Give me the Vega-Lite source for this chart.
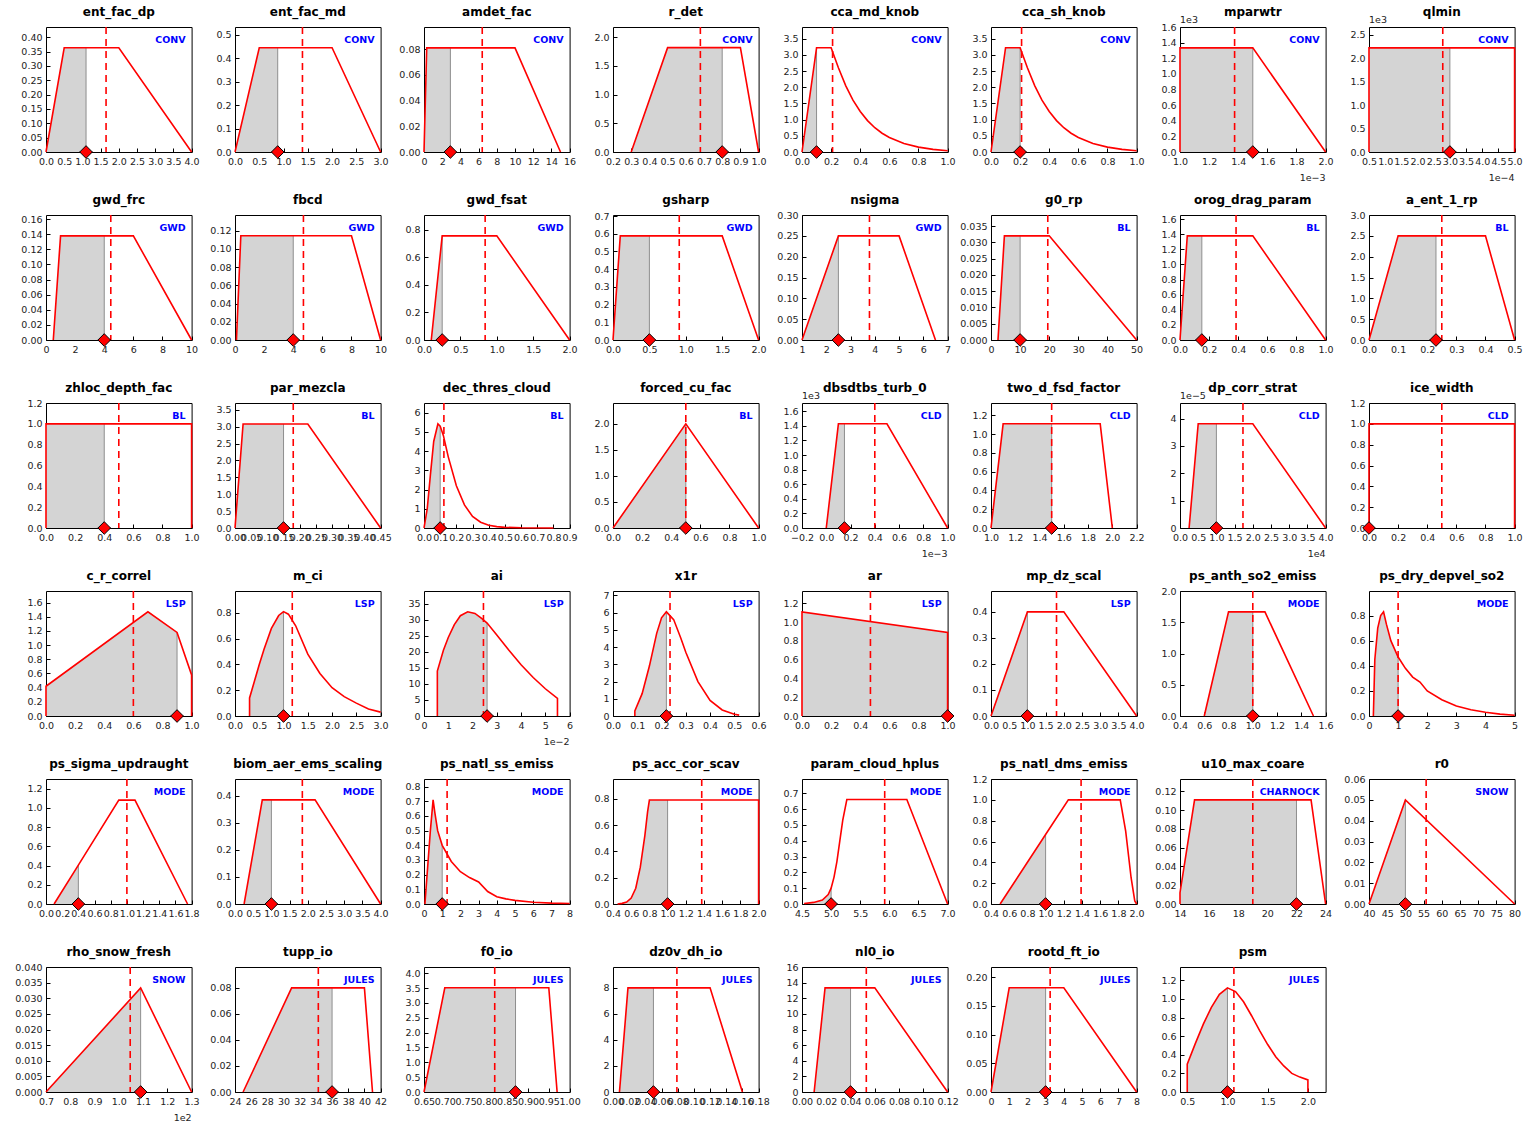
{
"$schema": "https://vega.github.io/schema/vega-lite/v6.json",
"background": "white",
"padding": {"left": 14, "top": 5, "right": 5, "bottom": 2},
"data": {"values": [
{"p":"ent_fac_dp","i":1,"x0":0,"x1":4,"yt":0.436,"d":1.65,"m":1.1,"v":0.3636,"lab":"CONV","ey":"","ex":""},
{"p":"ent_fac_dp","x":0,"y":0},{"p":"ent_fac_dp","x":0.5,"y":0.3636},{"p":"ent_fac_dp","x":1.1,"y":0.3636},{"p":"ent_fac_dp","x":2,"y":0.3636},{"p":"ent_fac_dp","x":4,"y":0},
{"p":"ent_fac_md","i":2,"x0":0,"x1":3,"yt":0.533,"d":1.39,"m":0.88,"v":0.4444,"lab":"CONV","ey":"","ex":""},
{"p":"ent_fac_md","x":0,"y":0},{"p":"ent_fac_md","x":0.5,"y":0.4444},{"p":"ent_fac_md","x":0.88,"y":0.4444},{"p":"ent_fac_md","x":2,"y":0.4444},{"p":"ent_fac_md","x":3,"y":0},
{"p":"amdet_fac","i":3,"x0":0,"x1":16,"yt":0.0972,"d":6.4,"m":2.9,"v":0.081,"lab":"CONV","ey":"","ex":""},
{"p":"amdet_fac","x":0,"y":0},{"p":"amdet_fac","x":0.3,"y":0.081},{"p":"amdet_fac","x":2.9,"y":0.081},{"p":"amdet_fac","x":10,"y":0.081},{"p":"amdet_fac","x":15,"y":0},
{"p":"r_det","i":4,"x0":0.2,"x1":1.0,"yt":2.18,"d":0.68,"m":0.8,"v":1.82,"lab":"CONV","ey":"","ex":""},
{"p":"r_det","x":0.3,"y":0},{"p":"r_det","x":0.5,"y":1.82},{"p":"r_det","x":0.8,"y":1.82},{"p":"r_det","x":0.9,"y":1.82},{"p":"r_det","x":1.0,"y":0},
{"p":"cca_md_knob","i":5,"x0":0,"x1":1,"yt":3.86,"d":0.21,"m":0.1,"v":3.22,"lab":"CONV","ey":"","ex":""},
{"p":"cca_md_knob","x":0,"y":0},{"p":"cca_md_knob","x":0.1,"y":3.22},{"p":"cca_md_knob","x":0.2,"y":3.22},{"p":"cca_md_knob","x":0.25,"y":2.6},{"p":"cca_md_knob","x":0.3,"y":2.05},{"p":"cca_md_knob","x":0.35,"y":1.6},{"p":"cca_md_knob","x":0.4,"y":1.25},{"p":"cca_md_knob","x":0.45,"y":0.97},{"p":"cca_md_knob","x":0.5,"y":0.75},{"p":"cca_md_knob","x":0.55,"y":0.58},{"p":"cca_md_knob","x":0.6,"y":0.45},{"p":"cca_md_knob","x":0.7,"y":0.26},{"p":"cca_md_knob","x":0.8,"y":0.15},{"p":"cca_md_knob","x":0.9,"y":0.08},{"p":"cca_md_knob","x":1.0,"y":0.04},
{"p":"cca_sh_knob","i":6,"x0":0,"x1":1,"yt":3.86,"d":0.21,"m":0.2,"v":3.22,"lab":"CONV","ey":"","ex":""},
{"p":"cca_sh_knob","x":0,"y":0},{"p":"cca_sh_knob","x":0.1,"y":3.22},{"p":"cca_sh_knob","x":0.2,"y":3.22},{"p":"cca_sh_knob","x":0.25,"y":2.6},{"p":"cca_sh_knob","x":0.3,"y":2.05},{"p":"cca_sh_knob","x":0.35,"y":1.6},{"p":"cca_sh_knob","x":0.4,"y":1.25},{"p":"cca_sh_knob","x":0.45,"y":0.97},{"p":"cca_sh_knob","x":0.5,"y":0.75},{"p":"cca_sh_knob","x":0.55,"y":0.58},{"p":"cca_sh_knob","x":0.6,"y":0.45},{"p":"cca_sh_knob","x":0.7,"y":0.26},{"p":"cca_sh_knob","x":0.8,"y":0.15},{"p":"cca_sh_knob","x":0.9,"y":0.08},{"p":"cca_sh_knob","x":1.0,"y":0.04},
{"p":"mparwtr","i":7,"x0":1,"x1":2,"yt":1.6008,"d":1.375,"m":1.5,"v":1.3333,"lab":"CONV","ey":"1e3","ex":"1e−3"},
{"p":"mparwtr","x":1,"y":0},{"p":"mparwtr","x":1,"y":1.3333},{"p":"mparwtr","x":1.5,"y":1.3333},{"p":"mparwtr","x":2,"y":0},
{"p":"qlmin","i":8,"x0":0.5,"x1":5,"yt":2.667,"d":2.78,"m":3.0,"v":2.2222,"lab":"CONV","ey":"1e3","ex":"1e−4"},
{"p":"qlmin","x":0.5,"y":0},{"p":"qlmin","x":0.5,"y":2.2222},{"p":"qlmin","x":3.0,"y":2.2222},{"p":"qlmin","x":5,"y":2.2222},{"p":"qlmin","x":5,"y":0},
{"p":"gwd_frc","i":9,"x0":0,"x1":10,"yt":0.1655,"d":4.45,"m":4,"v":0.1379,"lab":"GWD","ey":"","ex":""},
{"p":"gwd_frc","x":0.5,"y":0},{"p":"gwd_frc","x":1,"y":0.1379},{"p":"gwd_frc","x":4,"y":0.1379},{"p":"gwd_frc","x":6,"y":0.1379},{"p":"gwd_frc","x":10,"y":0},
{"p":"fbcd","i":10,"x0":0,"x1":10,"yt":0.137,"d":4.7,"m":4,"v":0.1143,"lab":"GWD","ey":"","ex":""},
{"p":"fbcd","x":0.1,"y":0},{"p":"fbcd","x":0.4,"y":0.1143},{"p":"fbcd","x":4,"y":0.1143},{"p":"fbcd","x":8,"y":0.1143},{"p":"fbcd","x":10,"y":0},
{"p":"gwd_fsat","i":11,"x0":0,"x1":2,"yt":0.906,"d":0.84,"m":0.25,"v":0.755,"lab":"GWD","ey":"","ex":""},
{"p":"gwd_fsat","x":0.1,"y":0},{"p":"gwd_fsat","x":0.25,"y":0.755},{"p":"gwd_fsat","x":1.0,"y":0.755},{"p":"gwd_fsat","x":2.0,"y":0},
{"p":"gsharp","i":12,"x0":0,"x1":2,"yt":0.706,"d":0.91,"m":0.5,"v":0.588,"lab":"GWD","ey":"","ex":""},
{"p":"gsharp","x":0,"y":0},{"p":"gsharp","x":0.1,"y":0.588},{"p":"gsharp","x":0.5,"y":0.588},{"p":"gsharp","x":1.5,"y":0.588},{"p":"gsharp","x":2.0,"y":0},
{"p":"nsigma","i":13,"x0":1,"x1":7,"yt":0.30015,"d":3.78,"m":2.5,"v":0.25,"lab":"GWD","ey":"","ex":""},
{"p":"nsigma","x":1,"y":0},{"p":"nsigma","x":2.5,"y":0.25},{"p":"nsigma","x":5,"y":0.25},{"p":"nsigma","x":6.5,"y":0},
{"p":"g0_rp","i":14,"x0":0,"x1":50,"yt":0.0384,"d":19.5,"m":10,"v":0.032,"lab":"BL","ey":"","ex":""},
{"p":"g0_rp","x":2.4,"y":0},{"p":"g0_rp","x":4.6,"y":0.032},{"p":"g0_rp","x":10,"y":0.032},{"p":"g0_rp","x":20,"y":0.032},{"p":"g0_rp","x":50,"y":0},
{"p":"orog_drag_param","i":15,"x0":0,"x1":1,"yt":1.655,"d":0.385,"m":0.15,"v":1.379,"lab":"BL","ey":"","ex":""},
{"p":"orog_drag_param","x":0,"y":0},{"p":"orog_drag_param","x":0.05,"y":1.379},{"p":"orog_drag_param","x":0.15,"y":1.379},{"p":"orog_drag_param","x":0.5,"y":1.379},{"p":"orog_drag_param","x":1.0,"y":0},
{"p":"a_ent_1_rp","i":16,"x0":0,"x1":0.5,"yt":3.001,"d":0.25,"m":0.23,"v":2.5,"lab":"BL","ey":"","ex":""},
{"p":"a_ent_1_rp","x":0,"y":0},{"p":"a_ent_1_rp","x":0.1,"y":2.5},{"p":"a_ent_1_rp","x":0.23,"y":2.5},{"p":"a_ent_1_rp","x":0.4,"y":2.5},{"p":"a_ent_1_rp","x":0.5,"y":0},
{"p":"zhloc_depth_fac","i":17,"x0":0,"x1":1,"yt":1.2005,"d":0.5,"m":0.4,"v":1,"lab":"BL","ey":"","ex":""},
{"p":"zhloc_depth_fac","x":0,"y":0},{"p":"zhloc_depth_fac","x":0,"y":1},{"p":"zhloc_depth_fac","x":0.4,"y":1},{"p":"zhloc_depth_fac","x":1,"y":1},{"p":"zhloc_depth_fac","x":1,"y":0},
{"p":"par_mezcla","i":18,"x0":0,"x1":0.45,"yt":3.7,"d":0.18,"m":0.15,"v":3.08,"lab":"BL","ey":"","ex":""},
{"p":"par_mezcla","x":0,"y":0},{"p":"par_mezcla","x":0.025,"y":3.08},{"p":"par_mezcla","x":0.15,"y":3.08},{"p":"par_mezcla","x":0.225,"y":3.08},{"p":"par_mezcla","x":0.45,"y":0},
{"p":"dec_thres_cloud","i":19,"x0":0,"x1":0.9,"yt":6.5,"d":0.123,"m":0.1,"v":5.3,"lab":"BL","ey":"","ex":""},
{"p":"dec_thres_cloud","x":0,"y":0},{"p":"dec_thres_cloud","x":0.02,"y":1.0},{"p":"dec_thres_cloud","x":0.04,"y":2.8},{"p":"dec_thres_cloud","x":0.06,"y":4.5},{"p":"dec_thres_cloud","x":0.086,"y":5.42},{"p":"dec_thres_cloud","x":0.1,"y":5.3},{"p":"dec_thres_cloud","x":0.12,"y":4.8},{"p":"dec_thres_cloud","x":0.15,"y":3.7},{"p":"dec_thres_cloud","x":0.2,"y":2.2},{"p":"dec_thres_cloud","x":0.25,"y":1.2},{"p":"dec_thres_cloud","x":0.3,"y":0.6},{"p":"dec_thres_cloud","x":0.35,"y":0.3},{"p":"dec_thres_cloud","x":0.4,"y":0.14},{"p":"dec_thres_cloud","x":0.45,"y":0.07},{"p":"dec_thres_cloud","x":0.5,"y":0.035},{"p":"dec_thres_cloud","x":0.6,"y":0.01},{"p":"dec_thres_cloud","x":0.8,"y":0.0},
{"p":"forced_cu_fac","i":20,"x0":0,"x1":1,"yt":2.4,"d":0.5,"m":0.5,"v":2,"lab":"BL","ey":"","ex":""},
{"p":"forced_cu_fac","x":0,"y":0},{"p":"forced_cu_fac","x":0.5,"y":2},{"p":"forced_cu_fac","x":1,"y":0},
{"p":"dbsdtbs_turb_0","i":21,"x0":-0.2,"x1":1.0,"yt":1.714,"d":0.4,"m":0.15,"v":1.4286,"lab":"CLD","ey":"1e3","ex":"1e−3"},
{"p":"dbsdtbs_turb_0","x":0,"y":0},{"p":"dbsdtbs_turb_0","x":0.1,"y":1.4286},{"p":"dbsdtbs_turb_0","x":0.15,"y":1.4286},{"p":"dbsdtbs_turb_0","x":0.5,"y":1.4286},{"p":"dbsdtbs_turb_0","x":1.0,"y":0},
{"p":"two_d_fsd_factor","i":22,"x0":1.0,"x1":2.2,"yt":1.333,"d":1.5,"m":1.5,"v":1.111,"lab":"CLD","ey":"","ex":""},
{"p":"two_d_fsd_factor","x":1.0,"y":0},{"p":"two_d_fsd_factor","x":1.1,"y":1.111},{"p":"two_d_fsd_factor","x":1.5,"y":1.111},{"p":"two_d_fsd_factor","x":1.9,"y":1.111},{"p":"two_d_fsd_factor","x":2.0,"y":0},
{"p":"dp_corr_strat","i":23,"x0":0,"x1":4,"yt":4.57,"d":1.73,"m":1.0,"v":3.81,"lab":"CLD","ey":"1e−5","ex":"1e4"},
{"p":"dp_corr_strat","x":0.25,"y":0},{"p":"dp_corr_strat","x":0.5,"y":3.81},{"p":"dp_corr_strat","x":1.0,"y":3.81},{"p":"dp_corr_strat","x":2.0,"y":3.81},{"p":"dp_corr_strat","x":4.0,"y":0},
{"p":"ice_width","i":24,"x0":0,"x1":1,"yt":1.2005,"d":0.5,"m":0,"v":0,"lab":"CLD","ey":"","ex":""},
{"p":"ice_width","x":0,"y":0},{"p":"ice_width","x":0,"y":1},{"p":"ice_width","x":1,"y":1},{"p":"ice_width","x":1,"y":0},
{"p":"c_r_correl","i":25,"x0":0,"x1":1,"yt":1.764,"d":0.6,"m":0.9,"v":1.18,"lab":"LSP","ey":"","ex":""},
{"p":"c_r_correl","x":0,"y":0},{"p":"c_r_correl","x":0,"y":0.42},{"p":"c_r_correl","x":0.7,"y":1.47},{"p":"c_r_correl","x":0.9,"y":1.18},{"p":"c_r_correl","x":1.0,"y":0.58},{"p":"c_r_correl","x":1.0,"y":0},
{"p":"m_ci","i":26,"x0":0,"x1":3,"yt":0.97,"d":1.18,"m":1.0,"v":0.81,"lab":"LSP","ey":"","ex":""},
{"p":"m_ci","x":0.3,"y":0},{"p":"m_ci","x":0.3,"y":0.14},{"p":"m_ci","x":0.4,"y":0.27},{"p":"m_ci","x":0.5,"y":0.4},{"p":"m_ci","x":0.6,"y":0.52},{"p":"m_ci","x":0.75,"y":0.68},{"p":"m_ci","x":0.9,"y":0.78},{"p":"m_ci","x":1.0,"y":0.81},{"p":"m_ci","x":1.1,"y":0.79},{"p":"m_ci","x":1.25,"y":0.7},{"p":"m_ci","x":1.5,"y":0.48},{"p":"m_ci","x":1.75,"y":0.33},{"p":"m_ci","x":2.0,"y":0.22},{"p":"m_ci","x":2.25,"y":0.15},{"p":"m_ci","x":2.5,"y":0.1},{"p":"m_ci","x":2.75,"y":0.055},{"p":"m_ci","x":3.0,"y":0.03},
{"p":"ai","i":27,"x0":0,"x1":6,"yt":39,"d":2.45,"m":2.6,"v":29,"lab":"LSP","ey":"","ex":"1e−2"},
{"p":"ai","x":0.55,"y":0},{"p":"ai","x":0.55,"y":14},{"p":"ai","x":0.8,"y":20.5},{"p":"ai","x":1.0,"y":24.5},{"p":"ai","x":1.25,"y":28.5},{"p":"ai","x":1.5,"y":31.3},{"p":"ai","x":1.8,"y":32.5},{"p":"ai","x":2.1,"y":32},{"p":"ai","x":2.4,"y":30.3},{"p":"ai","x":2.6,"y":29},{"p":"ai","x":3.0,"y":25.3},{"p":"ai","x":3.5,"y":20.5},{"p":"ai","x":4.0,"y":16},{"p":"ai","x":4.5,"y":12},{"p":"ai","x":5.0,"y":8.5},{"p":"ai","x":5.5,"y":5.5},{"p":"ai","x":5.5,"y":0},
{"p":"x1r","i":28,"x0":0,"x1":0.6,"yt":7.26,"d":0.235,"m":0.22,"v":6.05,"lab":"LSP","ey":"","ex":""},
{"p":"x1r","x":0.09,"y":0},{"p":"x1r","x":0.09,"y":0.3},{"p":"x1r","x":0.12,"y":1.3},{"p":"x1r","x":0.15,"y":2.9},{"p":"x1r","x":0.18,"y":4.8},{"p":"x1r","x":0.2,"y":5.7},{"p":"x1r","x":0.22,"y":6.05},{"p":"x1r","x":0.25,"y":5.6},{"p":"x1r","x":0.28,"y":4.5},{"p":"x1r","x":0.3,"y":3.7},{"p":"x1r","x":0.35,"y":2.0},{"p":"x1r","x":0.4,"y":0.9},{"p":"x1r","x":0.45,"y":0.35},{"p":"x1r","x":0.5,"y":0.1},{"p":"x1r","x":0.52,"y":0.05},
{"p":"ar","i":29,"x0":0,"x1":1,"yt":1.332,"d":0.47,"m":1.0,"v":0.89,"lab":"LSP","ey":"","ex":""},
{"p":"ar","x":0,"y":0},{"p":"ar","x":0,"y":1.11},{"p":"ar","x":1,"y":0.89},{"p":"ar","x":1,"y":0},
{"p":"mp_dz_scal","i":30,"x0":0,"x1":4,"yt":0.48,"d":1.8,"m":1.0,"v":0.4,"lab":"LSP","ey":"","ex":""},
{"p":"mp_dz_scal","x":0,"y":0},{"p":"mp_dz_scal","x":1,"y":0.4},{"p":"mp_dz_scal","x":2,"y":0.4},{"p":"mp_dz_scal","x":4,"y":0},
{"p":"ps_anth_so2_emiss","i":31,"x0":0.4,"x1":1.6,"yt":2.001,"d":1.0,"m":1.0,"v":1.667,"lab":"MODE","ey":"","ex":""},
{"p":"ps_anth_so2_emiss","x":0.6,"y":0},{"p":"ps_anth_so2_emiss","x":0.8,"y":1.667},{"p":"ps_anth_so2_emiss","x":1.0,"y":1.667},{"p":"ps_anth_so2_emiss","x":1.1,"y":1.667},{"p":"ps_anth_so2_emiss","x":1.5,"y":0},
{"p":"ps_dry_depvel_so2","i":32,"x0":0,"x1":5,"yt":0.996,"d":1.0,"m":1.0,"v":0.47,"lab":"MODE","ey":"","ex":""},
{"p":"ps_dry_depvel_so2","x":0.15,"y":0},{"p":"ps_dry_depvel_so2","x":0.2,"y":0.45},{"p":"ps_dry_depvel_so2","x":0.3,"y":0.7},{"p":"ps_dry_depvel_so2","x":0.4,"y":0.8},{"p":"ps_dry_depvel_so2","x":0.5,"y":0.83},{"p":"ps_dry_depvel_so2","x":0.6,"y":0.73},{"p":"ps_dry_depvel_so2","x":0.75,"y":0.6},{"p":"ps_dry_depvel_so2","x":1.0,"y":0.47},{"p":"ps_dry_depvel_so2","x":1.25,"y":0.38},{"p":"ps_dry_depvel_so2","x":1.5,"y":0.31},{"p":"ps_dry_depvel_so2","x":1.75,"y":0.27},{"p":"ps_dry_depvel_so2","x":2.0,"y":0.2},{"p":"ps_dry_depvel_so2","x":2.5,"y":0.13},{"p":"ps_dry_depvel_so2","x":3.0,"y":0.08},{"p":"ps_dry_depvel_so2","x":3.5,"y":0.05},{"p":"ps_dry_depvel_so2","x":4.0,"y":0.03},{"p":"ps_dry_depvel_so2","x":4.5,"y":0.015},{"p":"ps_dry_depvel_so2","x":5.0,"y":0.006},
{"p":"ps_sigma_updraught","i":33,"x0":0,"x1":1.8,"yt":1.3,"d":1.0,"m":0.4,"v":0.405,"lab":"MODE","ey":"","ex":""},
{"p":"ps_sigma_updraught","x":0.1,"y":0},{"p":"ps_sigma_updraught","x":0.4,"y":0.405},{"p":"ps_sigma_updraught","x":0.9,"y":1.08},{"p":"ps_sigma_updraught","x":1.1,"y":1.08},{"p":"ps_sigma_updraught","x":1.75,"y":0},
{"p":"biom_aer_ems_scaling","i":34,"x0":0,"x1":4,"yt":0.462,"d":1.85,"m":1.0,"v":0.385,"lab":"MODE","ey":"","ex":""},
{"p":"biom_aer_ems_scaling","x":0.25,"y":0},{"p":"biom_aer_ems_scaling","x":0.75,"y":0.385},{"p":"biom_aer_ems_scaling","x":1.0,"y":0.385},{"p":"biom_aer_ems_scaling","x":2.2,"y":0.385},{"p":"biom_aer_ems_scaling","x":4.0,"y":0},
{"p":"ps_natl_ss_emiss","i":35,"x0":0,"x1":8,"yt":0.852,"d":1.27,"m":1.0,"v":0.4,"lab":"MODE","ey":"","ex":""},
{"p":"ps_natl_ss_emiss","x":0.05,"y":0},{"p":"ps_natl_ss_emiss","x":0.2,"y":0.25},{"p":"ps_natl_ss_emiss","x":0.35,"y":0.5},{"p":"ps_natl_ss_emiss","x":0.5,"y":0.71},{"p":"ps_natl_ss_emiss","x":0.6,"y":0.62},{"p":"ps_natl_ss_emiss","x":0.75,"y":0.5},{"p":"ps_natl_ss_emiss","x":1.0,"y":0.4},{"p":"ps_natl_ss_emiss","x":1.5,"y":0.29},{"p":"ps_natl_ss_emiss","x":2.0,"y":0.22},{"p":"ps_natl_ss_emiss","x":2.5,"y":0.18},{"p":"ps_natl_ss_emiss","x":3.0,"y":0.15},{"p":"ps_natl_ss_emiss","x":3.5,"y":0.085},{"p":"ps_natl_ss_emiss","x":4.0,"y":0.05},{"p":"ps_natl_ss_emiss","x":4.5,"y":0.035},{"p":"ps_natl_ss_emiss","x":5.0,"y":0.025},{"p":"ps_natl_ss_emiss","x":6.0,"y":0.012},{"p":"ps_natl_ss_emiss","x":7.0,"y":0.006},{"p":"ps_natl_ss_emiss","x":8.0,"y":0.003},
{"p":"ps_acc_cor_scav","i":36,"x0":0.4,"x1":2.0,"yt":0.95,"d":1.375,"m":1.0,"v":0.79,"lab":"MODE","ey":"","ex":""},
{"p":"ps_acc_cor_scav","x":0.45,"y":0},{"p":"ps_acc_cor_scav","x":0.5,"y":0.005},{"p":"ps_acc_cor_scav","x":0.55,"y":0.015},{"p":"ps_acc_cor_scav","x":0.6,"y":0.045},{"p":"ps_acc_cor_scav","x":0.65,"y":0.12},{"p":"ps_acc_cor_scav","x":0.7,"y":0.28},{"p":"ps_acc_cor_scav","x":0.75,"y":0.52},{"p":"ps_acc_cor_scav","x":0.78,"y":0.7},{"p":"ps_acc_cor_scav","x":0.8,"y":0.79},{"p":"ps_acc_cor_scav","x":1.0,"y":0.79},{"p":"ps_acc_cor_scav","x":2.0,"y":0.79},{"p":"ps_acc_cor_scav","x":2.0,"y":0},
{"p":"param_cloud_hplus","i":37,"x0":4.5,"x1":7.0,"yt":0.79,"d":5.92,"m":5.0,"v":0.1,"lab":"MODE","ey":"","ex":""},
{"p":"param_cloud_hplus","x":4.55,"y":0},{"p":"param_cloud_hplus","x":4.55,"y":0.003},{"p":"param_cloud_hplus","x":4.7,"y":0.01},{"p":"param_cloud_hplus","x":4.85,"y":0.025},{"p":"param_cloud_hplus","x":4.95,"y":0.06},{"p":"param_cloud_hplus","x":5.0,"y":0.1},{"p":"param_cloud_hplus","x":5.05,"y":0.17},{"p":"param_cloud_hplus","x":5.1,"y":0.27},{"p":"param_cloud_hplus","x":5.15,"y":0.4},{"p":"param_cloud_hplus","x":5.2,"y":0.53},{"p":"param_cloud_hplus","x":5.27,"y":0.66},{"p":"param_cloud_hplus","x":6.3,"y":0.66},{"p":"param_cloud_hplus","x":7.0,"y":0},
{"p":"ps_natl_dms_emiss","i":38,"x0":0.4,"x1":2.0,"yt":1.2005,"d":1.39,"m":1.0,"v":0.667,"lab":"MODE","ey":"","ex":""},
{"p":"ps_natl_dms_emiss","x":0.5,"y":0},{"p":"ps_natl_dms_emiss","x":1.0,"y":0.667},{"p":"ps_natl_dms_emiss","x":1.25,"y":1.0},{"p":"ps_natl_dms_emiss","x":1.82,"y":1.0},{"p":"ps_natl_dms_emiss","x":1.88,"y":0.7},{"p":"ps_natl_dms_emiss","x":1.94,"y":0.25},{"p":"ps_natl_dms_emiss","x":1.98,"y":0.03},{"p":"ps_natl_dms_emiss","x":2.0,"y":0},
{"p":"u10_max_coare","i":39,"x0":14,"x1":24,"yt":0.1333,"d":19,"m":22,"v":0.111,"lab":"CHARNOCK","ey":"","ex":""},
{"p":"u10_max_coare","x":14,"y":0},{"p":"u10_max_coare","x":14,"y":0.012},{"p":"u10_max_coare","x":15,"y":0.111},{"p":"u10_max_coare","x":22,"y":0.111},{"p":"u10_max_coare","x":23,"y":0.111},{"p":"u10_max_coare","x":24,"y":0},
{"p":"r0","i":40,"x0":40,"x1":80,"yt":0.06003,"d":55.7,"m":50,"v":0.05,"lab":"SNOW","ey":"","ex":""},
{"p":"r0","x":40,"y":0},{"p":"r0","x":50,"y":0.05},{"p":"r0","x":80,"y":0},
{"p":"rho_snow_fresh","i":41,"x0":0.7,"x1":1.3,"yt":0.04002,"d":1.047,"m":1.09,"v":0.0333,"lab":"SNOW","ey":"","ex":"1e2"},
{"p":"rho_snow_fresh","x":0.7,"y":0},{"p":"rho_snow_fresh","x":1.09,"y":0.0333},{"p":"rho_snow_fresh","x":1.3,"y":0},
{"p":"tupp_io","i":42,"x0":24,"x1":42,"yt":0.096,"d":34.3,"m":36,"v":0.08,"lab":"JULES","ey":"","ex":""},
{"p":"tupp_io","x":25,"y":0},{"p":"tupp_io","x":31,"y":0.08},{"p":"tupp_io","x":36,"y":0.08},{"p":"tupp_io","x":40,"y":0.08},{"p":"tupp_io","x":41,"y":0},
{"p":"f0_io","i":43,"x0":0.65,"x1":1.0,"yt":4.21,"d":0.82,"m":0.87,"v":3.51,"lab":"JULES","ey":"","ex":""},
{"p":"f0_io","x":0.65,"y":0},{"p":"f0_io","x":0.7,"y":3.51},{"p":"f0_io","x":0.87,"y":3.51},{"p":"f0_io","x":0.95,"y":3.51},{"p":"f0_io","x":0.97,"y":0},
{"p":"dz0v_dh_io","i":44,"x0":0,"x1":0.18,"yt":9.6,"d":0.079,"m":0.05,"v":8,"lab":"JULES","ey":"","ex":""},
{"p":"dz0v_dh_io","x":0.008,"y":0},{"p":"dz0v_dh_io","x":0.0185,"y":8},{"p":"dz0v_dh_io","x":0.05,"y":8},{"p":"dz0v_dh_io","x":0.12,"y":8},{"p":"dz0v_dh_io","x":0.16,"y":0},
{"p":"nl0_io","i":45,"x0":0,"x1":0.12,"yt":16.008,"d":0.053,"m":0.04,"v":13.33,"lab":"JULES","ey":"","ex":""},
{"p":"nl0_io","x":0.01,"y":0},{"p":"nl0_io","x":0.019,"y":13.33},{"p":"nl0_io","x":0.04,"y":13.33},{"p":"nl0_io","x":0.06,"y":13.33},{"p":"nl0_io","x":0.12,"y":0},
{"p":"rootd_ft_io","i":46,"x0":0,"x1":8,"yt":0.218,"d":3.25,"m":3,"v":0.1818,"lab":"JULES","ey":"","ex":""},
{"p":"rootd_ft_io","x":0,"y":0},{"p":"rootd_ft_io","x":1,"y":0.1818},{"p":"rootd_ft_io","x":3,"y":0.1818},{"p":"rootd_ft_io","x":4,"y":0.1818},{"p":"rootd_ft_io","x":8,"y":0},
{"p":"psm","i":47,"x0":0.41,"x1":2.22,"yt":1.344,"d":1.08,"m":1.0,"v":1.12,"lab":"JULES","ey":"","ex":""},
{"p":"psm","x":0.5,"y":0},{"p":"psm","x":0.5,"y":0.3},{"p":"psm","x":0.6,"y":0.52},{"p":"psm","x":0.7,"y":0.73},{"p":"psm","x":0.8,"y":0.91},{"p":"psm","x":0.9,"y":1.05},{"p":"psm","x":1.0,"y":1.12},{"p":"psm","x":1.1,"y":1.08},{"p":"psm","x":1.2,"y":0.97},{"p":"psm","x":1.3,"y":0.82},{"p":"psm","x":1.4,"y":0.66},{"p":"psm","x":1.5,"y":0.51},{"p":"psm","x":1.6,"y":0.38},{"p":"psm","x":1.7,"y":0.28},{"p":"psm","x":1.8,"y":0.2},{"p":"psm","x":1.9,"y":0.16},{"p":"psm","x":2.0,"y":0.13},{"p":"psm","x":2.0,"y":0}
]},
"transform": [{"joinaggregate": [{"op": "max", "field": "m", "as": "mm"}], "groupby": ["p"]}],
"facet": {"field": "p", "type": "nominal", "title": null, "sort": {"field": "i", "op": "max"}},
"columns": 8,
"spacing": {"row": 63, "column": 43},
"bounds": "flush",
"resolve": {"scale": {"x": "independent", "y": "independent"}},
"spec": {
"width": 145.6,
"height": 125,
"layer": [
{"transform": [{"filter": "datum.y != null && datum.x <= datum.mm + 1e-9"}],
 "mark": {"type": "area", "color": "#d4d4d4", "opacity": 1},
 "encoding": {"x": {"field": "x", "type": "quantitative", "title": null, "scale": {"zero": false, "nice": false}}, "y": {"field": "y", "type": "quantitative", "title": null, "scale": {"nice": false}}, "order": {"value": null}}},
{"transform": [{"filter": "datum.i != null"}],
 "mark": {"type": "rule", "color": "#8e8e8e", "strokeWidth": 1},
 "encoding": {"x": {"field": "m", "type": "quantitative", "title": null, "scale": {"zero": false, "nice": false}}, "y": {"field": "v", "type": "quantitative", "title": null, "scale": {"nice": false}}, "y2": {"datum": 0}}},
{"transform": [{"filter": "datum.y != null"}],
 "mark": {"type": "line", "color": "#ff0000", "strokeWidth": 1.6},
 "encoding": {
  "x": {"field": "x", "type": "quantitative", "title": null, "scale": {"zero": false, "nice": false},
   "axis": {"title": null, "tickCount": 100,
    "values": {"expr": "sequence(ceil(domain('child_x')[0]/(pow(10,floor((log((domain('child_x')[1]-domain('child_x')[0])/9)/LN10-1e-9)))*(((log((domain('child_x')[1]-domain('child_x')[0])/9)/LN10-1e-9)-floor((log((domain('child_x')[1]-domain('child_x')[0])/9)/LN10-1e-9)))<=0.30103?2:((log((domain('child_x')[1]-domain('child_x')[0])/9)/LN10-1e-9)-floor((log((domain('child_x')[1]-domain('child_x')[0])/9)/LN10-1e-9)))<=0.69898?5:10))-1e-6)*(pow(10,floor((log((domain('child_x')[1]-domain('child_x')[0])/9)/LN10-1e-9)))*(((log((domain('child_x')[1]-domain('child_x')[0])/9)/LN10-1e-9)-floor((log((domain('child_x')[1]-domain('child_x')[0])/9)/LN10-1e-9)))<=0.30103?2:((log((domain('child_x')[1]-domain('child_x')[0])/9)/LN10-1e-9)-floor((log((domain('child_x')[1]-domain('child_x')[0])/9)/LN10-1e-9)))<=0.69898?5:10)),domain('child_x')[1]+(pow(10,floor((log((domain('child_x')[1]-domain('child_x')[0])/9)/LN10-1e-9)))*(((log((domain('child_x')[1]-domain('child_x')[0])/9)/LN10-1e-9)-floor((log((domain('child_x')[1]-domain('child_x')[0])/9)/LN10-1e-9)))<=0.30103?2:((log((domain('child_x')[1]-domain('child_x')[0])/9)/LN10-1e-9)-floor((log((domain('child_x')[1]-domain('child_x')[0])/9)/LN10-1e-9)))<=0.69898?5:10))*1e-6,(pow(10,floor((log((domain('child_x')[1]-domain('child_x')[0])/9)/LN10-1e-9)))*(((log((domain('child_x')[1]-domain('child_x')[0])/9)/LN10-1e-9)-floor((log((domain('child_x')[1]-domain('child_x')[0])/9)/LN10-1e-9)))<=0.30103?2:((log((domain('child_x')[1]-domain('child_x')[0])/9)/LN10-1e-9)-floor((log((domain('child_x')[1]-domain('child_x')[0])/9)/LN10-1e-9)))<=0.69898?5:10)))"},
    "labelExpr": "format(datum.value,'.'+max(0,-floor(log((pow(10,floor((log((domain('child_x')[1]-domain('child_x')[0])/9)/LN10-1e-9)))*(((log((domain('child_x')[1]-domain('child_x')[0])/9)/LN10-1e-9)-floor((log((domain('child_x')[1]-domain('child_x')[0])/9)/LN10-1e-9)))<=0.30103?2:((log((domain('child_x')[1]-domain('child_x')[0])/9)/LN10-1e-9)-floor((log((domain('child_x')[1]-domain('child_x')[0])/9)/LN10-1e-9)))<=0.69898?5:10)))/LN10+1e-6))+'f')"}},
  "y": {"field": "y", "type": "quantitative", "title": null, "scale": {"nice": false},
   "axis": {"title": null, "tickCount": 100,
    "values": {"expr": "sequence(ceil(domain('child_y')[0]/(pow(10,floor((log((domain('child_y')[1]-domain('child_y')[0])/9)/LN10-1e-9)))*(((log((domain('child_y')[1]-domain('child_y')[0])/9)/LN10-1e-9)-floor((log((domain('child_y')[1]-domain('child_y')[0])/9)/LN10-1e-9)))<=0.30103?2:((log((domain('child_y')[1]-domain('child_y')[0])/9)/LN10-1e-9)-floor((log((domain('child_y')[1]-domain('child_y')[0])/9)/LN10-1e-9)))<=0.69898?5:10))-1e-6)*(pow(10,floor((log((domain('child_y')[1]-domain('child_y')[0])/9)/LN10-1e-9)))*(((log((domain('child_y')[1]-domain('child_y')[0])/9)/LN10-1e-9)-floor((log((domain('child_y')[1]-domain('child_y')[0])/9)/LN10-1e-9)))<=0.30103?2:((log((domain('child_y')[1]-domain('child_y')[0])/9)/LN10-1e-9)-floor((log((domain('child_y')[1]-domain('child_y')[0])/9)/LN10-1e-9)))<=0.69898?5:10)),domain('child_y')[1]+(pow(10,floor((log((domain('child_y')[1]-domain('child_y')[0])/9)/LN10-1e-9)))*(((log((domain('child_y')[1]-domain('child_y')[0])/9)/LN10-1e-9)-floor((log((domain('child_y')[1]-domain('child_y')[0])/9)/LN10-1e-9)))<=0.30103?2:((log((domain('child_y')[1]-domain('child_y')[0])/9)/LN10-1e-9)-floor((log((domain('child_y')[1]-domain('child_y')[0])/9)/LN10-1e-9)))<=0.69898?5:10))*1e-6,(pow(10,floor((log((domain('child_y')[1]-domain('child_y')[0])/9)/LN10-1e-9)))*(((log((domain('child_y')[1]-domain('child_y')[0])/9)/LN10-1e-9)-floor((log((domain('child_y')[1]-domain('child_y')[0])/9)/LN10-1e-9)))<=0.30103?2:((log((domain('child_y')[1]-domain('child_y')[0])/9)/LN10-1e-9)-floor((log((domain('child_y')[1]-domain('child_y')[0])/9)/LN10-1e-9)))<=0.69898?5:10)))"},
    "labelExpr": "format(datum.value,'.'+max(0,-floor(log((pow(10,floor((log((domain('child_y')[1]-domain('child_y')[0])/9)/LN10-1e-9)))*(((log((domain('child_y')[1]-domain('child_y')[0])/9)/LN10-1e-9)-floor((log((domain('child_y')[1]-domain('child_y')[0])/9)/LN10-1e-9)))<=0.30103?2:((log((domain('child_y')[1]-domain('child_y')[0])/9)/LN10-1e-9)-floor((log((domain('child_y')[1]-domain('child_y')[0])/9)/LN10-1e-9)))<=0.69898?5:10)))/LN10+1e-6))+'f')"}},
  "order": {"value": null}}},
{"transform": [{"filter": "datum.i != null"}],
 "mark": {"type": "rule", "color": "#ff0000", "strokeWidth": 1.6, "strokeDash": [7, 5]},
 "encoding": {"x": {"field": "d", "type": "quantitative", "title": null, "scale": {"zero": false, "nice": false}}}},
{"transform": [{"filter": "datum.i != null"}],
 "mark": {"type": "rule", "opacity": 0},
 "encoding": {"x": {"field": "x0", "type": "quantitative", "title": null, "scale": {"zero": false, "nice": false}}, "x2": {"field": "x1"}, "y": {"field": "yt", "type": "quantitative", "title": null, "scale": {"nice": false}}}},
{"transform": [{"filter": "datum.i != null"}],
 "mark": {"type": "point", "shape": "diamond", "filled": true, "fill": "#ff0000", "stroke": "#000000", "strokeWidth": 1, "size": 160, "opacity": 1},
 "encoding": {"x": {"field": "m", "type": "quantitative", "title": null, "scale": {"zero": false, "nice": false}}, "y": {"datum": 0, "type": "quantitative"}}},
{"transform": [{"filter": "datum.i != null"}],
 "mark": {"type": "text", "align": "right", "baseline": "middle", "dx": -6, "dy": 13, "color": "#0000ff", "fontWeight": "bold", "fontSize": 9.5, "font": "DejaVu Sans"},
 "encoding": {"x": {"field": "x1", "type": "quantitative", "title": null, "scale": {"zero": false, "nice": false}}, "y": {"field": "yt", "type": "quantitative", "title": null, "scale": {"nice": false}}, "text": {"field": "lab", "type": "nominal"}}},
{"transform": [{"filter": "datum.i != null"}],
 "mark": {"type": "text", "align": "left", "baseline": "bottom", "dy": -2, "color": "#222222", "fontSize": 9.5, "font": "DejaVu Sans"},
 "encoding": {"x": {"field": "x0", "type": "quantitative", "title": null, "scale": {"zero": false, "nice": false}}, "y": {"field": "yt", "type": "quantitative", "title": null, "scale": {"nice": false}}, "text": {"field": "ey", "type": "nominal"}}},
{"transform": [{"filter": "datum.i != null"}],
 "mark": {"type": "text", "align": "right", "baseline": "middle", "dy": 26, "color": "#222222", "fontSize": 9.5, "font": "DejaVu Sans"},
 "encoding": {"x": {"field": "x1", "type": "quantitative", "title": null, "scale": {"zero": false, "nice": false}}, "y": {"datum": 0, "type": "quantitative"}, "text": {"field": "ex", "type": "nominal"}}}
]
},
"config": {
 "font": "DejaVu Sans",
 "view": {"stroke": "#000000", "strokeWidth": 1},
 "axis": {"grid": false, "domain": false, "ticks": true, "tickColor": "#000000", "tickWidth": 1, "tickSize": 4, "offset": -4, "zindex": 1, "labelPadding": 4, "labelFontSize": 9.5, "labelColor": "#222222", "labelOverlap": false, "labelFlush": false, "labelBound": false, "labelFont": "DejaVu Sans"},
 "header": {"labelFontSize": 12, "labelFontWeight": "bold", "labelColor": "#000000", "labelPadding": -4, "labelFont": "DejaVu Sans"},
 "text": {"font": "DejaVu Sans"}
}
}
